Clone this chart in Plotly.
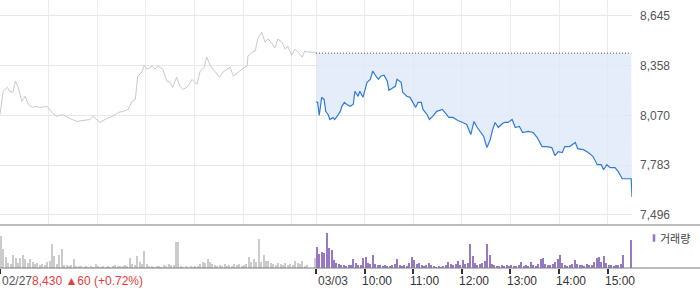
import plotly.graph_objects as go

# ---------------- data ----------------
prev_close = 8430
# 02/27 intraday (time, price)
day1_time = ["09:00","09:04","09:09","09:12","09:16","09:19","09:22","09:27","09:31","09:35","09:40","09:43","09:49","09:58",
             "10:04","10:10","10:17","10:23","10:29","10:35","10:42","10:51","10:55","11:03","11:12","11:19","11:26","11:32",
             "11:38","11:43","11:47","11:50","11:55","11:58","12:01","12:08","12:11","12:15","12:21","12:26","12:30","12:33",
             "12:38","12:42","12:46","12:52","12:57","13:03","13:07","13:12","13:15","13:20","13:25","13:31","13:35","13:40",
             "13:44","13:48","13:54","14:00","14:05","14:06","14:11","14:15","14:18","14:23","14:27","14:31","14:36","14:39",
             "14:43","14:48","14:52","14:55","15:00","15:04","15:08","15:13","15:16","15:20","15:29","15:30"]
day1_price = [8076,8210,8233,8210,8204,8268,8239,8152,8181,8134,8117,8123,8117,8123,
              8088,8065,8076,8059,8047,8036,8041,8047,8065,8030,8053,8065,8088,8094,
              8105,8152,8163,8297,8320,8361,8337,8355,8337,8355,8337,8268,8262,8233,
              8291,8239,8221,8239,8279,8250,8326,8349,8407,8355,8326,8291,8320,8337,
              8349,8297,8320,8343,8355,8413,8436,8442,8512,8552,8494,8512,8483,8459,
              8512,8494,8453,8471,8419,8453,8436,8407,8442,8436,8436,8430]
# 03/03 intraday (time, price)
day2_time = ["09:00","09:02","09:04","09:07","09:10","09:12","09:15","09:17","09:21","09:23","09:26","09:30","09:32","09:35",
             "09:38","09:42","09:46","09:48","09:52","09:54","09:58","10:03","10:07","10:10","10:14","10:17","10:20","10:24",
             "10:28","10:30","10:34","10:38","10:40","10:45","10:47","10:52","10:56","11:00","11:03","11:06","11:10","11:12",
             "11:17","11:20","11:24","11:29","11:36","11:39","11:44","11:49","11:55","12:01","12:06","12:11","12:15","12:19",
             "12:24","12:27","12:31","12:35","12:38","12:41","12:45","12:50","12:53","12:57","13:02","13:06","13:11","13:15",
             "13:22","13:28","13:33","13:39","13:45","13:51","13:55","13:59","14:04","14:07","14:13","14:20","14:23","14:30",
             "14:36","14:42","14:47","14:52","14:55","14:59","15:03","15:09","15:13","15:18","15:20","15:29","15:30"]
day2_price = [8148,8146,8070,8175,8163,8094,8076,8047,8059,8047,8065,8094,8123,8146,
              8134,8123,8134,8210,8181,8210,8175,8262,8279,8326,8297,8279,8297,8303,
              8268,8216,8227,8239,8279,8262,8204,8181,8175,8146,8117,8146,8146,8105,
              8076,8047,8065,8094,8105,8088,8059,8059,8041,8030,8018,7960,8036,8001,
              7972,7949,7885,7931,7989,8030,8001,8024,8030,8030,8047,8001,8007,7972,
              7978,7972,7943,7891,7891,7885,7838,7862,7856,7891,7891,7914,7879,7873,
              7856,7833,7786,7786,7757,7786,7769,7769,7746,7705,7705,7705,7600]

# volume in 3-minute buckets (thousand shares)
day1_vol = [32,19,11,5,4,13,10,5,10,13,9,5,9,6,4,5,3,4,3,6,7,24,12,4,13,19,3,3,2,3,
            9,2,2,2,1,2,1,2,1,4,2,1,2,1,2,1,2,3,2,2,2,3,2,10,4,3,12,6,4,17,
            4,2,2,1,2,2,1,3,2,4,3,3,26,26,2,1,2,1,2,1,2,2,4,6,5,9,6,4,3,2,
            3,2,4,2,3,2,4,3,4,2,3,4,11,6,9,6,29,6,13,7,7,5,4,3,5,4,3,5,3,4,
            3,7,5,4,7,2,3,0,0,10]
day2_vol = [21,14,16,15,35,20,18,8,5,4,3,3,2,3,3,9,5,3,3,10,11,5,4,13,4,3,3,2,3,2,
            2,3,4,9,3,2,3,2,5,11,8,4,5,3,2,3,5,3,2,1,2,1,2,3,6,4,3,4,7,3,
            8,4,5,24,12,5,3,4,5,7,24,13,4,3,2,2,3,2,3,2,3,2,2,3,6,2,3,2,6,3,
            2,4,9,10,4,3,3,4,6,9,13,5,3,2,3,4,8,4,3,3,2,4,3,3,6,10,11,6,12,5,
            3,3,2,3,3,4,13,0,0,28]

y_ticks = [7496, 7783.25, 8070.5, 8357.75, 8645]
y_tick_text = ["7,496", "7,783", "8,070", "8,358", "8,645"]
day_labels = ["02/27", "03/03"]
hour_labels = ["10:00", "11:00", "12:00", "13:00", "14:00", "15:00"]
change_text = "8,430 ▲60 (+0.72%)"

# ---------------- helpers ----------------
SESSION = 390  # minutes 09:00-15:30

def to_min(t, day):
    h, m = map(int, t.split(":"))
    return day * SESSION + (h - 9) * 60 + m

x1 = [to_min(t, 0) for t in day1_time]
x2 = [to_min(t, 1) for t in day2_time]
vx1 = [i * 3 + 1.5 for i in range(len(day1_vol))]
vx2 = [SESSION + i * 3 + 1.5 for i in range(len(day2_vol))]

FONT = "Liberation Sans, Arial, sans-serif"
W, H = 700, 289
L, R, T, B = 0, 68, 0, 21
PH = H - T - B  # 268
main_bottom = (PH - 225) / PH
vol_top = (PH - 230) / PH

fig = go.Figure()
fig.add_trace(go.Scatter(x=x1, y=day1_price, mode="lines",
                         line=dict(color="#c9c9cd", width=1), xaxis="x", yaxis="y",
                         hoverinfo="skip", showlegend=False))
fig.add_trace(go.Scatter(x=[SESSION, 2 * SESSION - 1], y=[prev_close, prev_close], mode="lines",
                         line=dict(color="#555555", width=1, dash="1px,2px"), xaxis="x", yaxis="y",
                         hoverinfo="skip", showlegend=False))
fig.add_trace(go.Scatter(x=x2, y=day2_price, mode="lines", fill="tonexty",
                         fillcolor="rgba(221,232,248,0.8)",
                         line=dict(color="#2f7bdd", width=1.2), xaxis="x", yaxis="y",
                         hoverinfo="skip", showlegend=False))
fig.add_trace(go.Bar(x=vx1, y=day1_vol, width=1.8, marker=dict(color="#cbcbcb", line=dict(width=0)),
                     xaxis="x2", yaxis="y2", showlegend=False, hoverinfo="skip"))
fig.add_trace(go.Bar(x=vx2, y=day2_vol, width=1.8, marker=dict(color="#9579c4", line=dict(width=0)),
                     xaxis="x2", yaxis="y2", showlegend=False, hoverinfo="skip"))

grid_vals = [60, 120, 180, 240, 300, 360, 390, 450, 510, 570, 630, 690, 750]
vol_tick_vals = [0, 390, 450, 510, 570, 630, 690, 750]

fig.update_layout(
    width=W, height=H, margin=dict(l=L, r=R, t=T, b=B),
    paper_bgcolor="white", plot_bgcolor="white",
    font=dict(family=FONT, size=12, color="#333"),
    bargap=0,
    xaxis=dict(domain=[0, 1], range=[0, 2 * SESSION], anchor="y", tickvals=grid_vals,
               showticklabels=False, showgrid=True, gridcolor="#ececec", gridwidth=1,
               zeroline=False, showline=False, ticks=""),
    yaxis=dict(domain=[main_bottom, 1], range=[7438, 8737], side="right", anchor="x",
               tickvals=y_ticks, ticktext=y_tick_text, showgrid=True, gridcolor="#e8e8e8",
               zeroline=False, showline=False, ticks="", ticklabelstandoff=7,
               tickfont=dict(size=12, color="#555", family=FONT)),
    xaxis2=dict(domain=[0, 1], range=[0, 2 * SESSION], anchor="y2", tickvals=vol_tick_vals,
                showticklabels=False, ticks="outside", ticklen=5, tickwidth=1.5, tickcolor="#333",
                showgrid=False, zeroline=False, showline=False),
    yaxis2=dict(domain=[0, vol_top], range=[0, 38], visible=False, fixedrange=True),
)

# separator lines spanning the full width
for yp in (main_bottom, 0):
    fig.add_shape(type="line", xref="paper", yref="paper", x0=0, x1=W / (W - R), y0=yp, y1=yp,
                  line=dict(color="#7a7a7a", width=1))

# legend marker for volume
fig.add_shape(type="rect", xref="paper", yref="paper",
              x0=652.7 / (W - R), x1=655.3 / (W - R), y0=(PH - 241.7) / PH, y1=(PH - 234.3) / PH,
              fillcolor="#9579c4", line=dict(width=0))
fig.add_annotation(text="거래량", xref="paper", yref="paper", x=658 / (W - R), y=(PH - 238) / PH,
                   xanchor="left", yanchor="middle", showarrow=False,
                   font=dict(size=11, color="#444", family="Noto Sans CJK KR, " + FONT))

label_y = (PH - 281) / PH
fig.add_annotation(text=f"<span style='color:#555'>{day_labels[0]}</span><span style='color:#e93b3b'>{change_text}</span>",
                   xref="x2", yref="paper", x=0, y=label_y, xanchor="left", yanchor="middle",
                   showarrow=False, font=dict(size=12, family=FONT))
fig.add_annotation(text=day_labels[1], xref="x2", yref="paper", x=SESSION, y=label_y,
                   xanchor="left", yanchor="middle", showarrow=False,
                   font=dict(size=12, color="#444", family=FONT))
for i, lab in enumerate(hour_labels):
    fig.add_annotation(text=lab, xref="x2", yref="paper", x=SESSION + 60 * (i + 1), y=label_y,
                       xanchor="left", xshift=-5, yanchor="middle", showarrow=False,
                       font=dict(size=12, color="#333", family=FONT))

fig.write_html("out.html")
